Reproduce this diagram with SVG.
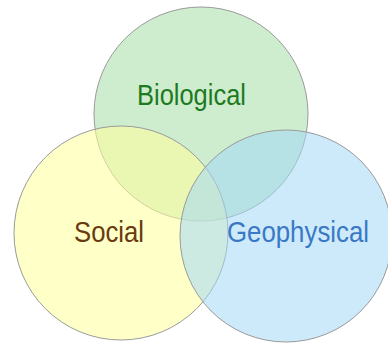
<svg xmlns="http://www.w3.org/2000/svg" width="388" height="344" viewBox="0 0 388 344">
<style>
.c{stroke:#9a9a9a;stroke-width:1;fill-opacity:0.55}
.t{font-family:"Liberation Sans",Arial,sans-serif;font-size:30px}
</style>
<rect width="388" height="344" fill="#ffffff"/>
<g id="biological">
<circle class="c" cx="201" cy="114" r="107" fill="#a6dfa6"/>
</g>
<g id="social">
<circle class="c" cx="121" cy="233" r="107" fill="#ffff9a"/>
</g>
<g id="geophysical">
<circle class="c" cx="286" cy="236" r="106" fill="#a4d8f8"/>
</g>
<g id="labels">
<text class="t" x="137" y="105" fill="#1e7a1e" textLength="109" lengthAdjust="spacingAndGlyphs">Biological</text>
<text class="t" x="74" y="242" fill="#6a3a10" textLength="70" lengthAdjust="spacingAndGlyphs">Social</text>
<text class="t" x="227" y="242" fill="#3a78c6" textLength="142" lengthAdjust="spacingAndGlyphs">Geophysical</text>
</g>
</svg>
